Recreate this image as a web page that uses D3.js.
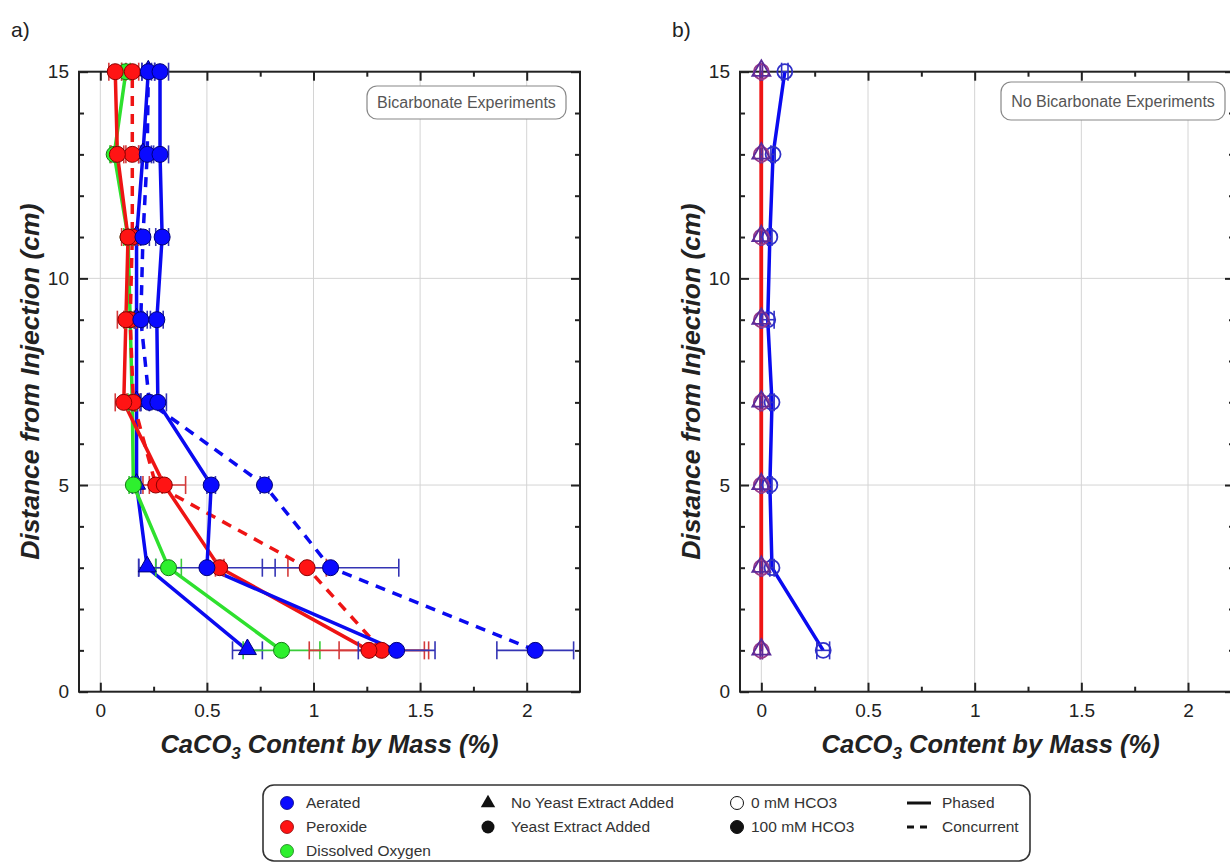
<!DOCTYPE html>
<html lang="en">
  <head>
    <meta charset="UTF-8" />
    <title>CaCO3 content by mass</title>
    <script src="https://d3js.org/d3.v7.min.js"></script>
    <style>
      body { margin: 0; background: #fff; }
      text { font-family: Arial, "Liberation Sans", sans-serif; }
      .grid { stroke: #d4d4d4; stroke-width: 1px; }
      .frame { fill: none; stroke: #222; stroke-width: 2px; }
      .title { font-size: 25.5px; font-weight: bold; font-style: italic; fill: #222; }
      .ytitle { font-size: 26.5px; }
      .panel-label { font-size: 21px; fill: #222; }
      .note { font-size: 16px; fill: #555; }
      .legend text { font-size: 15.5px; fill: #333; }
    </style>
  </head>
  <body>
    <svg id="chart" width="1230" height="865"></svg>
    <script>
      // depths (cm from injection)
      const depths = [1, 3, 5, 7, 9, 11, 13, 15];

      // a) bicarbonate experiments (100 mM HCO3)
      const aerNoYeastPhased = [0.69, 0.22, 0.17, 0.17, 0.17, 0.17, 0.2, 0.225];
      const aerNoYeastPhasedErr = [0.07, 0.04, 0.02, 0.02, 0.03, 0.02, 0.02, 0.03];
      const aerYeastPhased = [1.39, 0.5, 0.52, 0.27, 0.265, 0.29, 0.28, 0.28];
      const aerYeastPhasedErr = [0.18, 0.32, 0.02, 0.04, 0.03, 0.03, 0.04, 0.04];
      const aerYeastConc = [2.04, 1.08, 0.77, 0.23, 0.19, 0.2, 0.22, 0.225];
      const aerYeastConcErr = [0.18, 0.32, 0.02, 0.04, 0.03, 0.03, 0.03, 0.03];
      const perYeastPhased = [1.26, 0.56, 0.3, 0.11, 0.12, 0.13, 0.08, 0.07];
      const perYeastPhasedErr = [0.28, 0.02, 0.1, 0.04, 0.04, 0.03, 0.03, 0.03];
      const perYeastConc = [1.32, 0.97, 0.26, 0.155, 0.14, 0.15, 0.15, 0.15];
      const perYeastConcErr = [0.2, 0.09, 0.03, 0.03, 0.03, 0.03, 0.03, 0.03];
      const doYeastPhased = [0.85, 0.32, 0.155, 0.15, 0.14, 0.13, 0.065, 0.12];
      const doYeastPhasedErr = [0.18, 0.06, 0.02, 0.02, 0.02, 0.02, 0.02, 0.02];

      // b) no bicarbonate experiments (0 mM HCO3)
      const bAerPhased = [0.29, 0.05, 0.04, 0.05, 0.03, 0.04, 0.055, 0.11];
      const bAerPhasedErr = [0.03, 0.01, 0.01, 0.01, 0.03, 0.01, 0.01, 0.015];
      const bPerNoYeast = [0, 0, 0, 0, 0, 0, 0, 0];
      const bPerYeast = [0, 0, 0, 0, 0, 0, 0, 0];
      const bPerErr = [0.005, 0.005, 0.005, 0.005, 0.005, 0.005, 0.005, 0.005];

      // ticks
      const xMajor = [0, 0.5, 1, 1.5, 2];
      const xMinor = [0.25, 0.75, 1.25, 1.75];
      const yMajor = [0, 5, 10, 15];
      const yMinor = [1, 2, 3, 4, 6, 7, 8, 9, 11, 12, 13, 14];

      // legend
      const legendTreatments = ["Aerated", "Peroxide", "Dissolved Oxygen"];
      const legendYeast = ["No Yeast Extract Added", "Yeast Extract Added"];
      const legendHco3 = ["0 mM HCO3", "100 mM HCO3"];
      const legendMode = ["Phased", "Concurrent"];

      const col = {
        blue: { line: "#0a0af0", fill: "#0a0aff", edge: "#00007a", err: "#3434b4" },
        red: { line: "#ee1414", fill: "#ff1414", edge: "#8a0000", err: "#d43a3a" },
        green: { line: "#2ee02e", fill: "#2ef02e", edge: "#167a16", err: "#3acc3a" }
      };

      const svg = d3.select("#chart");
      const yTop = 71.7, yBottom = 691.7;
      const fmt = d3.format("~g");

      const seriesA = [
        { v: aerNoYeastPhased, e: aerNoYeastPhasedErr, c: col.blue, dash: false, shape: "triangle" },
        { v: doYeastPhased, e: doYeastPhasedErr, c: col.green, dash: false, shape: "circle" },
        { v: perYeastConc, e: perYeastConcErr, c: col.red, dash: true, shape: "circle" },
        { v: perYeastPhased, e: perYeastPhasedErr, c: col.red, dash: false, shape: "circle" },
        { v: aerYeastConc, e: aerYeastConcErr, c: col.blue, dash: true, shape: "circle" },
        { v: aerYeastPhased, e: aerYeastPhasedErr, c: col.blue, dash: false, shape: "circle" }
      ];

      const seriesB = [
        { v: bAerPhased, e: bAerPhasedErr, c: col.blue, dash: false, shape: "circle", open: "#3030c8" },
        { v: bPerYeast, e: bPerErr, c: col.red, dash: false, shape: "circle", open: "#9a3a8a" },
        { v: bPerNoYeast, e: bPerErr, c: col.red, dash: false, shape: "triangle", open: "#5a2a9a" }
      ];

      function drawPanel(xRange, xMax, series, label, note, noteBox) {
        const x = d3.scaleLinear().domain([-0.1, xMax]).range(xRange);
        const y = d3.scaleLinear().domain([0, 15]).range([yBottom, yTop]);
        const g = svg.append("g");

        g.selectAll("line.gx").data(xMajor).join("line").attr("class", "grid gx")
          .attr("x1", d => x(d)).attr("x2", d => x(d))
          .attr("y1", yTop).attr("y2", yBottom);
        g.selectAll("line.gy").data([5, 10]).join("line").attr("class", "grid gy")
          .attr("x1", xRange[0]).attr("x2", xRange[1])
          .attr("y1", d => y(d)).attr("y2", d => y(d));

        const axes = [
          [d3.axisBottom(x).tickValues(xMajor).tickSize(-9).tickPadding(12).tickFormat(fmt), `translate(0,${yBottom})`, true],
          [d3.axisBottom(x).tickValues(xMinor).tickSize(-5).tickFormat(""), `translate(0,${yBottom})`, false],
          [d3.axisTop(x).tickValues(xMajor).tickSize(-9).tickFormat(""), `translate(0,${yTop})`, false],
          [d3.axisTop(x).tickValues(xMinor).tickSize(-5).tickFormat(""), `translate(0,${yTop})`, false],
          [d3.axisLeft(y).tickValues(yMajor).tickSize(-9).tickPadding(10).tickFormat(fmt), `translate(${xRange[0]},0)`, true],
          [d3.axisLeft(y).tickValues(yMinor).tickSize(-5).tickFormat(""), `translate(${xRange[0]},0)`, false],
          [d3.axisRight(y).tickValues(yMajor).tickSize(-9).tickFormat(""), `translate(${xRange[1]},0)`, false],
          [d3.axisRight(y).tickValues(yMinor).tickSize(-5).tickFormat(""), `translate(${xRange[1]},0)`, false]
        ];
        axes.forEach(([ax, tr, labels]) => {
          const a = g.append("g").attr("transform", tr).call(ax);
          a.select(".domain").remove();
          a.selectAll("line").attr("stroke", "#222").attr("stroke-width", 2);
          if (labels) {
            a.selectAll("text").attr("font-size", 19).attr("font-family", "Arial, 'Liberation Sans', sans-serif").attr("fill", "#222");
          }
        });

        g.append("rect").attr("class", "frame")
          .attr("x", xRange[0]).attr("y", yTop)
          .attr("width", xRange[1] - xRange[0]).attr("height", yBottom - yTop);

        const line = d3.line().x(d => x(d.v)).y(d => y(d.d));
        const pts = s => s.v.map((v, i) => ({ v: v, d: depths[i], e: s.e[i] }));

        series.forEach(s => {
          g.append("path").datum(pts(s))
            .attr("fill", "none")
            .attr("stroke", s.c.line)
            .attr("stroke-width", 3.5)
            .attr("stroke-dasharray", s.dash ? "10,8" : null)
            .attr("d", line);
        });

        series.forEach(s => {
          const eg = g.append("g").attr("stroke", s.open ? s.open : s.c.err).attr("stroke-width", 1.6);
          pts(s).forEach(p => {
            eg.append("line").attr("x1", x(p.v - p.e)).attr("x2", x(p.v + p.e)).attr("y1", y(p.d)).attr("y2", y(p.d));
            [p.v - p.e, p.v + p.e].forEach(c => {
              eg.append("line").attr("x1", x(c)).attr("x2", x(c)).attr("y1", y(p.d) - 9).attr("y2", y(p.d) + 9);
            });
          });
        });

        series.forEach(s => {
          const mg = g.append("g");
          const fill = s.open ? "none" : s.c.fill;
          const edge = s.open ? s.open : s.c.edge;
          const sw = s.open ? 1.8 : 1;
          if (s.shape === "circle") {
            mg.selectAll("circle").data(pts(s)).join("circle")
              .attr("cx", d => x(d.v)).attr("cy", d => y(d.d))
              .attr("r", s.open ? 7.5 : 8)
              .attr("fill", fill).attr("stroke", edge).attr("stroke-width", sw);
          } else {
            mg.selectAll("path").data(pts(s)).join("path")
              .attr("d", d3.symbol(d3.symbolTriangle, 140))
              .attr("transform", d => `translate(${x(d.v)},${y(d.d) - 1})`)
              .attr("fill", fill).attr("stroke", edge).attr("stroke-width", sw);
          }
        });

        g.append("text").attr("class", "panel-label")
          .attr("x", xRange[0] - 68).attr("y", 37).text(label);

        const xt = g.append("text").attr("class", "title")
          .attr("x", (x(0) + x(2)) / 2 + 16).attr("y", 753).attr("text-anchor", "middle");
        xt.append("tspan").text("CaCO");
        xt.append("tspan").text("3").attr("font-size", 17).attr("dy", 6);
        xt.append("tspan").text(" Content by Mass (%)").attr("dy", -6);

        g.append("text").attr("class", "title ytitle")
          .attr("transform", `translate(${xRange[0] - 40},${(yTop + yBottom) / 2})rotate(-90)`)
          .attr("text-anchor", "middle")
          .text("Distance from Injection (cm)");

        g.append("rect")
          .attr("x", noteBox[0]).attr("y", noteBox[1])
          .attr("width", noteBox[2]).attr("height", noteBox[3])
          .attr("rx", 10).attr("fill", "#fff").attr("stroke", "#888").attr("stroke-width", 1.2);
        g.append("text").attr("class", "note")
          .attr("x", noteBox[0] + noteBox[2] / 2).attr("y", noteBox[1] + noteBox[3] / 2 + 5.5)
          .attr("text-anchor", "middle").text(note);
      }

      drawPanel([79, 580], 2.25, seriesA, "a)", "Bicarbonate Experiments", [367, 86, 199, 33]);
      drawPanel([740, 1234], 2.2156, seriesB, "b)", "No Bicarbonate Experiments", [1001, 82, 224, 38]);

      // legend
      const lg = svg.append("g").attr("class", "legend");
      lg.append("rect").attr("x", 263).attr("y", 785).attr("width", 767).attr("height", 76)
        .attr("rx", 11).attr("fill", "#fff").attr("stroke", "#333").attr("stroke-width", 1.6);
      const rowY = [803, 827, 851];
      const tcols = [col.blue, col.red, col.green];
      legendTreatments.forEach((t, i) => {
        lg.append("circle").attr("cx", 287).attr("cy", rowY[i]).attr("r", 6.5)
          .attr("fill", tcols[i].fill).attr("stroke", tcols[i].edge).attr("stroke-width", 0.8);
        lg.append("text").attr("x", 306).attr("y", rowY[i] + 5).text(t);
      });
      legendYeast.forEach((t, i) => {
        if (i === 0) {
          lg.append("path").attr("d", d3.symbol(d3.symbolTriangle, 90))
            .attr("transform", `translate(488,${rowY[i]})`).attr("fill", "#111");
        } else {
          lg.append("circle").attr("cx", 488).attr("cy", rowY[i]).attr("r", 6.5).attr("fill", "#111");
        }
        lg.append("text").attr("x", 511).attr("y", rowY[i] + 5).text(t);
      });
      legendHco3.forEach((t, i) => {
        lg.append("circle").attr("cx", 737).attr("cy", rowY[i]).attr("r", 6.5)
          .attr("fill", i === 0 ? "#fff" : "#111").attr("stroke", "#111").attr("stroke-width", 1);
        lg.append("text").attr("x", 751).attr("y", rowY[i] + 5).text(t);
      });
      legendMode.forEach((t, i) => {
        lg.append("line").attr("x1", 907).attr("x2", 931).attr("y1", rowY[i]).attr("y2", rowY[i])
          .attr("stroke", "#111").attr("stroke-width", 3)
          .attr("stroke-dasharray", i === 1 ? "7,6" : null);
        lg.append("text").attr("x", 942).attr("y", rowY[i] + 5).text(t);
      });
    </script>
  </body>
</html>
